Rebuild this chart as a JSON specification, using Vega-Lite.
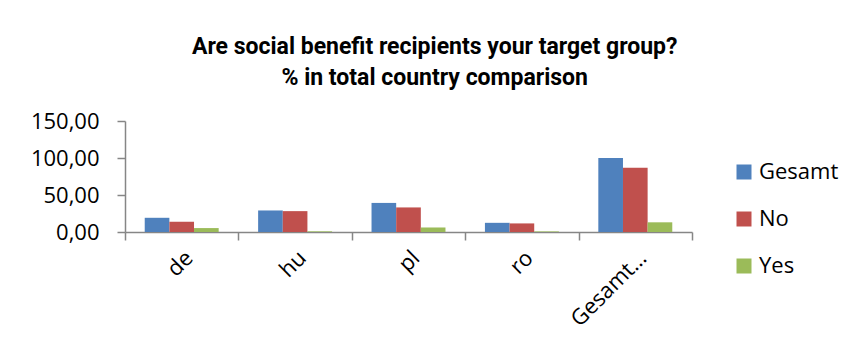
{
  "$schema": "https://vega.github.io/schema/vega-lite/v6.json",
  "autosize": {"type": "none"},
  "width": 567,
  "height": 111,
  "padding": {"left": 125, "top": 121, "right": 163, "bottom": 114},
  "background": "white",
  "title": {
    "text": ["Are social benefit recipients your target group?", "% in total country comparison"],
    "font": "Roboto",
    "fontSize": 23,
    "fontWeight": "bold",
    "color": "#000000",
    "lineHeight": 31,
    "anchor": "middle",
    "frame": "bounds",
    "offset": 20
  },
  "data": {
    "values": [
      {"country": "de", "series": "Gesamt", "pct": 19.2},
      {"country": "de", "series": "No", "pct": 13.9},
      {"country": "de", "series": "Yes", "pct": 5.3},
      {"country": "hu", "series": "Gesamt", "pct": 29.1},
      {"country": "hu", "series": "No", "pct": 28.2},
      {"country": "hu", "series": "Yes", "pct": 0.9},
      {"country": "pl", "series": "Gesamt", "pct": 39.3},
      {"country": "pl", "series": "No", "pct": 33.2},
      {"country": "pl", "series": "Yes", "pct": 6.1},
      {"country": "ro", "series": "Gesamt", "pct": 12.4},
      {"country": "ro", "series": "No", "pct": 11.6},
      {"country": "ro", "series": "Yes", "pct": 0.8},
      {"country": "Gesamt…", "series": "Gesamt", "pct": 100.0},
      {"country": "Gesamt…", "series": "No", "pct": 86.9},
      {"country": "Gesamt…", "series": "Yes", "pct": 13.1}
    ]
  },
  "mark": {"type": "bar"},
  "encoding": {
    "x": {
      "field": "country",
      "type": "nominal",
      "sort": null,
      "title": null,
      "scale": {"paddingInner": 0, "paddingOuter": 0},
      "axis": {
        "labelAngle": -45,
        "labelFont": "Open Sans",
        "labelFontSize": 22,
        "labelColor": "#000000",
        "labelPadding": 7,
        "labelDx": 2,
        "tickBand": "extent",
        "tickSize": 8,
        "tickColor": "#868686",
        "domainColor": "#868686",
        "domainWidth": 1.5,
        "tickWidth": 1.5,
        "grid": false
      }
    },
    "xOffset": {
      "field": "series",
      "type": "nominal",
      "sort": ["Gesamt", "No", "Yes"],
      "scale": {"paddingInner": 0, "paddingOuter": 0.8}
    },
    "y": {
      "field": "pct",
      "type": "quantitative",
      "title": null,
      "scale": {"domain": [0, 150], "nice": false},
      "axis": {
        "values": [0, 50, 100, 150],
        "labelExpr": "replace(format(datum.value, '.2f'), '.', ',')",
        "labelFont": "Open Sans",
        "labelFontSize": 22,
        "labelColor": "#000000",
        "labelPadding": 18,
        "tickSize": 8,
        "tickColor": "#868686",
        "domainColor": "#868686",
        "domainWidth": 1.5,
        "tickWidth": 1.5,
        "grid": false
      }
    },
    "color": {
      "field": "series",
      "type": "nominal",
      "scale": {"domain": ["Gesamt", "No", "Yes"], "range": ["#4F81BD", "#C0504D", "#9BBB59"]},
      "legend": {
        "title": null,
        "orient": "none",
        "legendX": 608,
        "legendY": 40,
        "symbolType": "square",
        "symbolSize": 225,
        "symbolStrokeWidth": 0,
        "labelFont": "Open Sans",
        "labelFontSize": 22,
        "labelColor": "#000000",
        "labelOffset": 4,
        "rowPadding": 25
      }
    }
  },
  "config": {"view": {"stroke": null}}
}
